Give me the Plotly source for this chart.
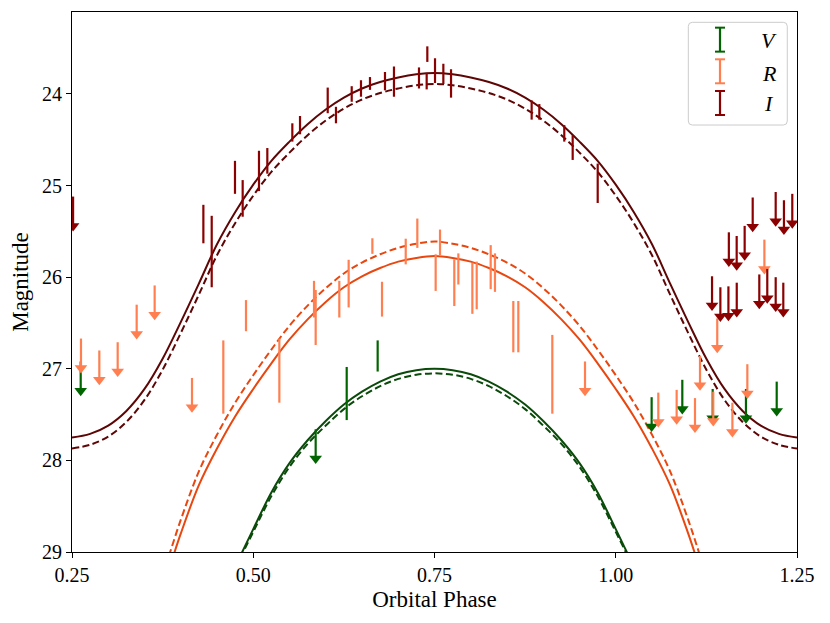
import plotly.graph_objects as go

# ---------------- model curves ----------------
PHASE_I = [0.25, 0.275, 0.30, 0.325, 0.35, 0.375, 0.40, 0.425, 0.45, 0.475, 0.50,
           0.525, 0.55, 0.575, 0.60, 0.625, 0.65, 0.675, 0.70, 0.725, 0.75,
           0.775, 0.80, 0.825, 0.85, 0.875, 0.90, 0.925, 0.95, 0.975, 1.00,
           1.025, 1.05, 1.075, 1.10, 1.125, 1.15, 1.175, 1.20, 1.225, 1.25]
I_SOLID = [27.75, 27.71, 27.62, 27.46, 27.22, 26.89, 26.49, 26.07, 25.64, 25.29, 24.99,
           24.73, 24.52, 24.33, 24.17, 24.04, 23.94, 23.87, 23.82, 23.785, 23.77,
           23.785, 23.82, 23.87, 23.94, 24.04, 24.17, 24.33, 24.52, 24.73, 24.99,
           25.29, 25.64, 26.07, 26.49, 26.89, 27.22, 27.46, 27.62, 27.71, 27.75]
I_DASHED = [27.87, 27.83, 27.74, 27.58, 27.34, 27.01, 26.61, 26.19, 25.76, 25.41, 25.11,
            24.85, 24.64, 24.45, 24.29, 24.16, 24.06, 23.99, 23.94, 23.905, 23.89,
            23.905, 23.94, 23.99, 24.06, 24.16, 24.29, 24.45, 24.64, 24.85, 25.11,
            25.41, 25.76, 26.19, 26.61, 27.01, 27.34, 27.58, 27.74, 27.83, 27.87]

PHASE_R = [0.35, 0.375, 0.40, 0.425, 0.45, 0.475, 0.50, 0.525, 0.55, 0.575, 0.60,
           0.625, 0.65, 0.675, 0.70, 0.725, 0.75, 0.775, 0.80, 0.825, 0.85, 0.875,
           0.90, 0.925, 0.95, 0.975, 1.00, 1.025, 1.05, 1.075, 1.10, 1.125, 1.15]
R_SOLID = [29.95, 29.40, 28.80, 28.27, 27.87, 27.52, 27.22, 26.94, 26.68, 26.46, 26.27,
           26.11, 25.99, 25.90, 25.83, 25.79, 25.77, 25.79, 25.83, 25.90, 25.99, 26.11,
           26.27, 26.46, 26.68, 26.94, 27.22, 27.52, 27.87, 28.27, 28.80, 29.40, 29.95]
R_DASHED = [29.80, 29.25, 28.65, 28.12, 27.72, 27.37, 27.07, 26.79, 26.53, 26.31, 26.12,
            25.96, 25.84, 25.75, 25.68, 25.635, 25.61, 25.635, 25.68, 25.75, 25.84, 25.96,
            26.12, 26.31, 26.53, 26.79, 27.07, 27.37, 27.72, 28.12, 28.65, 29.25, 29.80]

PHASE_V = [0.45, 0.475, 0.50, 0.525, 0.55, 0.575, 0.60, 0.625, 0.65, 0.675, 0.70, 0.725,
           0.75, 0.775, 0.80, 0.825, 0.85, 0.875, 0.90, 0.925, 0.95, 0.975, 1.00, 1.025, 1.05]
V_SOLID = [29.56, 29.16, 28.75, 28.35, 28.03, 27.78, 27.57, 27.39, 27.25, 27.14, 27.06, 27.015,
           27.00, 27.015, 27.06, 27.14, 27.25, 27.39, 27.57, 27.78, 28.03, 28.35, 28.75, 29.16, 29.56]
V_DASHED = [29.58, 29.18, 28.78, 28.39, 28.07, 27.82, 27.62, 27.44, 27.30, 27.19, 27.11, 27.065,
            27.05, 27.065, 27.11, 27.19, 27.30, 27.44, 27.62, 27.82, 28.07, 28.39, 28.78, 29.18, 29.58]

# ---------------- observations ----------------
V_DET_PHASE = [0.6289, 0.6716]
V_DET_MAG = [27.27, 26.86]
V_DET_ERR = [0.29, 0.17]
V_LIM_PHASE = [0.2620, 0.5861, 1.0495, 1.0918, 1.1337, 1.1796, 1.2220]
V_LIM_MAG = [26.92, 27.66, 27.31, 27.12, 27.22, 27.22, 27.14]

R_DET_PHASE = [0.4587, 0.4900, 0.5360, 0.5838, 0.5861, 0.6187, 0.6316, 0.6643, 0.6776,
               0.7103, 0.7263, 0.7516, 0.7576, 0.7773, 0.7829, 0.8022, 0.8082, 0.8275,
               0.8334, 0.8587, 0.8656, 0.9125]
R_DET_MAG = [27.09, 26.42, 27.02, 26.24, 26.44, 26.24, 26.07, 25.66, 26.24,
             25.72, 25.52, 25.95, 25.62, 26.06, 25.91, 26.12, 26.09, 25.89,
             25.95, 26.54, 26.54, 27.06]
R_DET_ERR = [0.40, 0.17, 0.35, 0.20, 0.30, 0.20, 0.26, 0.085, 0.19,
             0.14, 0.16, 0.20, 0.14, 0.255, 0.17, 0.28, 0.26, 0.24,
             0.21, 0.28, 0.28, 0.43]
R_LIM_PHASE = [0.2624, 0.2877, 0.3130, 0.3392, 0.3640, 0.4155, 0.9576, 1.0587, 1.0840,
               1.1093, 1.1162, 1.1345, 1.1400, 1.1609, 1.1815, 1.2050]
R_LIM_MAG = [26.67, 26.80, 26.71, 26.30, 26.09, 27.10, 26.92, 27.26, 27.23,
             27.32, 26.86, 27.25, 26.45, 27.37, 26.95, 25.59]

I_DET_PHASE = [0.4312, 0.4427, 0.4748, 0.4854, 0.5079, 0.5194, 0.5539, 0.5645, 0.6027,
               0.6141, 0.6358, 0.6486, 0.6610, 0.6817, 0.6941, 0.7286, 0.7401, 0.7392,
               0.7507, 0.7622, 0.7728, 0.8840, 0.8946, 0.9290, 0.9406, 0.9751]
I_DET_MAG = [25.42, 25.72, 24.91, 25.14, 24.84, 24.73, 24.42, 24.34, 24.07,
             24.23, 24.00, 23.94, 23.885, 23.86, 23.865, 23.825, 23.565, 23.86,
             23.745, 23.78, 23.885, 24.175, 24.195, 24.43, 24.585, 24.975]
I_DET_ERR = [0.21, 0.39, 0.18, 0.20, 0.22, 0.14, 0.10, 0.10, 0.14,
             0.09, 0.085, 0.09, 0.07, 0.10, 0.165, 0.115, 0.085, 0.09,
             0.135, 0.11, 0.155, 0.105, 0.085, 0.09, 0.135, 0.215]
I_LIM_PHASE = [0.2515, 1.1328, 1.1443, 1.1554, 1.1669, 1.1560, 1.1668, 1.1778, 1.1889,
               1.1980, 1.2090, 1.2206, 1.2311, 1.2206, 1.2320, 1.2435]
I_LIM_MAG = [25.12, 25.99, 26.11, 26.10, 26.06, 25.51, 25.55, 25.44, 25.13,
             25.97, 25.91, 26.00, 26.06, 25.07, 25.16, 25.09]

X_TICKS = [0.25, 0.50, 0.75, 1.00, 1.25]
X_TICKTEXT = ["0.25", "0.50", "0.75", "1.00", "1.25"]
Y_TICKS = [24, 25, 26, 27, 28, 29]
Y_TICKTEXT = ["24", "25", "26", "27", "28", "29"]

BANDS = ["V", "R", "I"]
DATA_COLORS = {"V": "#006400", "R": "#FF7F50", "I": "#8B0000"}
CURVE_COLORS = {"V": "#0a4a0a", "R": "#e8470f", "I": "#5e0505"}

# style constants for the upper-limit arrows (in magnitudes)
SHAFT = 0.30
HEAD_OFFSET = 0.32

fig = go.Figure()

curves = [(PHASE_I, I_SOLID, I_DASHED, "I"),
          (PHASE_R, R_SOLID, R_DASHED, "R"),
          (PHASE_V, V_SOLID, V_DASHED, "V")]
for ph, solid, dashed, b in curves:
    fig.add_trace(go.Scatter(x=ph, y=solid, mode="lines", hoverinfo="skip",
                             line=dict(color=CURVE_COLORS[b], width=2, shape="spline")))
    fig.add_trace(go.Scatter(x=ph, y=dashed, mode="lines", hoverinfo="skip",
                             line=dict(color=CURVE_COLORS[b], width=2, shape="spline",
                                       dash="7px,3.5px")))

obs = {
    "V": (V_DET_PHASE, V_DET_MAG, V_DET_ERR, V_LIM_PHASE, V_LIM_MAG),
    "R": (R_DET_PHASE, R_DET_MAG, R_DET_ERR, R_LIM_PHASE, R_LIM_MAG),
    "I": (I_DET_PHASE, I_DET_MAG, I_DET_ERR, I_LIM_PHASE, I_LIM_MAG),
}
for b in BANDS:
    dp, dm, de, lp, lm = obs[b]
    c = DATA_COLORS[b]
    fig.add_trace(go.Scatter(
        x=dp, y=dm, mode="markers", marker=dict(size=1, color="rgba(0,0,0,0)"),
        error_y=dict(type="data", array=de, symmetric=True, color=c, thickness=2.2, width=0)))
    fig.add_trace(go.Scatter(
        x=lp, y=lm, mode="markers", marker=dict(size=1, color="rgba(0,0,0,0)"),
        error_y=dict(type="data", symmetric=False, array=[SHAFT] * len(lm),
                     arrayminus=[0] * len(lm), color=c, thickness=2.2, width=0)))
    fig.add_trace(go.Scatter(
        x=lp, y=[m + HEAD_OFFSET for m in lm], mode="markers",
        marker=dict(symbol="triangle-down", size=11, color=c, line=dict(width=0))))

# the page body adds an 8px offset, so the figure is sized 8px smaller
fig.update_layout(
    width=822, height=615,
    margin=dict(l=64, r=33, t=4, b=71),
    paper_bgcolor="white", plot_bgcolor="white",
    showlegend=False,
    font=dict(family="Liberation Serif", size=20, color="black"),
)
fig.update_xaxes(range=[0.25, 1.25], tickvals=X_TICKS, ticktext=X_TICKTEXT,
                 ticks="outside", ticklen=5, tickwidth=1, tickcolor="black",
                 showline=True, linecolor="black", linewidth=1, mirror=True,
                 showgrid=False, zeroline=False,
                 title=dict(text="Orbital Phase", font=dict(size=23), standoff=5))
fig.update_yaxes(range=[29, 23.105], tickvals=Y_TICKS, ticktext=Y_TICKTEXT,
                 ticks="outside", ticklen=5, tickwidth=1, tickcolor="black",
                 showline=True, linecolor="black", linewidth=1, mirror=True,
                 showgrid=False, zeroline=False,
                 title=dict(text="Magnitude", font=dict(size=23), standoff=9))

# ---------------- legend (drawn by hand to show error-bar glyphs) ----------------
x0, x1, y0, y1 = 0.8501, 0.9866, 0.7907, 0.9809
rx, ry = 0.0055, 0.0074
box = (f"M {x0+rx},{y1} L {x1-rx},{y1} Q {x1},{y1} {x1},{y1-ry} "
       f"L {x1},{y0+ry} Q {x1},{y0} {x1-rx},{y0} L {x0+rx},{y0} "
       f"Q {x0},{y0} {x0},{y0+ry} L {x0},{y1-ry} Q {x0},{y1} {x0+rx},{y1} Z")
shapes = [dict(type="path", path=box, xref="paper", yref="paper",
               fillcolor="rgba(255,255,255,0.8)", line=dict(color="#cccccc", width=1),
               layer="above")]
gx, cap = 0.8938, 0.0069
entries = [("V", 0.9710, 0.9266, 0.9476), ("R", 0.9124, 0.8680, 0.8865), ("I", 0.8537, 0.8093, 0.8309)]
annotations = []
for b, ytop, ybot, ylab in entries:
    c = DATA_COLORS[b]
    shapes.append(dict(type="line", xref="paper", yref="paper", x0=gx, x1=gx, y0=ybot, y1=ytop,
                       line=dict(color=c, width=2.2), layer="above"))
    for yy in (ytop, ybot):
        shapes.append(dict(type="line", xref="paper", yref="paper", x0=gx - cap, x1=gx + cap,
                           y0=yy, y1=yy, line=dict(color=c, width=2), layer="above"))
    annotations.append(dict(text=f"<i>{b}</i>", x=0.9614, y=ylab, xref="paper", yref="paper",
                            xanchor="center", yanchor="middle", showarrow=False,
                            font=dict(size=22, family="Liberation Serif", color="black")))
fig.update_layout(shapes=shapes, annotations=annotations)

fig.write_html("out.html")
